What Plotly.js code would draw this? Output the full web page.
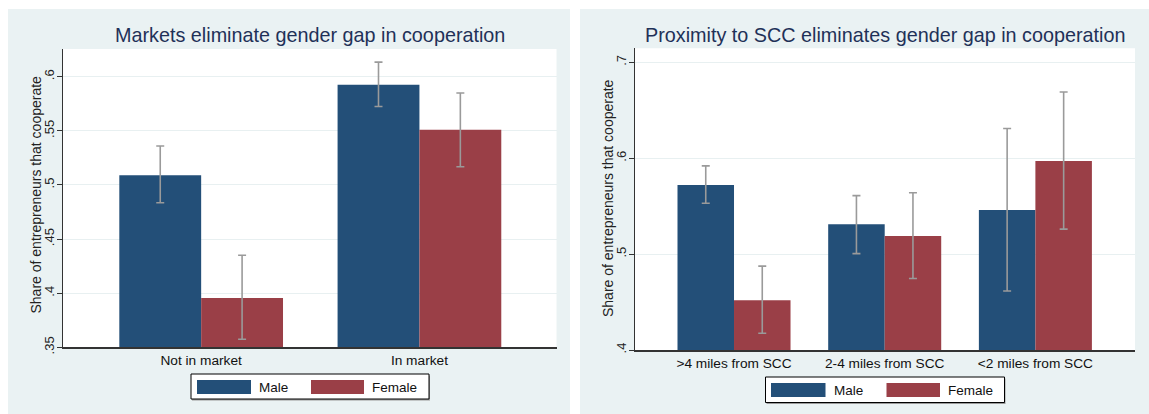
<!DOCTYPE html>
<html>
<head>
<meta charset="utf-8">
<script src="https://cdn.plot.ly/plotly-3.0.1.min.js"></script>
<style>
html,body{margin:0;padding:0;background:#fff;}
#chart{width:1149px;height:414px;}
</style>
</head>
<body>
<div id="chart"></div>
<script>
// ---- data: left panel ----
const marketCats = ["Not in market", "In market"];
const marketMale = [0.509, 0.5925];
const marketMaleHi = [0.536, 0.6135];
const marketMaleLo = [0.4835, 0.5725];
const marketFemale = [0.3955, 0.551];
const marketFemaleHi = [0.435, 0.585];
const marketFemaleLo = [0.3575, 0.5168];

// ---- data: right panel ----
const sccCats = [">4 miles from SCC", "2-4 miles from SCC", "<2 miles from SCC"];
const sccMale = [0.572, 0.531, 0.546];
const sccMaleHi = [0.592, 0.561, 0.631];
const sccMaleLo = [0.553, 0.5005, 0.4615];
const sccFemale = [0.452, 0.519, 0.597];
const sccFemaleHi = [0.4875, 0.564, 0.669];
const sccFemaleLo = [0.4175, 0.4745, 0.526];

const leftTicks = [0.35, 0.4, 0.45, 0.5, 0.55, 0.6];
const leftTickText = [".35", ".4", ".45", ".5", ".55", ".6"];
const rightTicks = [0.4, 0.5, 0.6, 0.7];
const rightTickText = [".4", ".5", ".6", ".7"];

const seriesNames = ["Male", "Female"];
const titleLeft = "Markets eliminate gender gap in cooperation";
const titleRight = "Proximity to SCC eliminates gender gap in cooperation";
const yTitle = "Share of entrepreneurs that cooperate";

// ---- styling ----
const MALE = "#234f78";
const FEMALE = "#9a3f47";
const PANEL = "#eaf2f3";
const W = 1149, H = 414;
const FONT = "Liberation Sans, Arial, Helvetica, sans-serif";
const px = x => x / W;
const py = y => 1 - y / H;

function diff(a, b) { return a.map((v, i) => v - b[i]); }

function barTrace(cats, vals, hi, lo, name, color, xa, ya) {
  return {
    type: "bar", x: cats, y: vals, name: name, xaxis: xa, yaxis: ya,
    marker: {color: color, line: {width: 0}},
    showlegend: false,
    error_y: {type: "data", symmetric: false, array: diff(hi, vals), arrayminus: diff(vals, lo),
              color: "#9a9a9a", thickness: 1.6, width: 4}
  };
}

const data = [
  barTrace(marketCats, marketMale, marketMaleHi, marketMaleLo, seriesNames[0], MALE, "x", "y"),
  barTrace(marketCats, marketFemale, marketFemaleHi, marketFemaleLo, seriesNames[1], FEMALE, "x", "y"),
  barTrace(sccCats, sccMale, sccMaleHi, sccMaleLo, seriesNames[0], MALE, "x2", "y2"),
  barTrace(sccCats, sccFemale, sccFemaleHi, sccFemaleLo, seriesNames[1], FEMALE, "x2", "y2")
];

function yax(range, tv, tt, domain, anchor) {
  return {
    domain: domain, anchor: anchor, range: range, tickvals: tv, ticktext: tt,
    tickangle: -90, ticks: "outside", ticklen: 5, tickwidth: 1, tickcolor: "#333",
    ticklabelstandoff: -3,
    showline: true, linecolor: "#333", linewidth: 1.4,
    showgrid: true, gridcolor: "#e8f0f1", gridwidth: 1, zeroline: false,
    tickfont: {family: FONT, size: 13, color: "#222"},
    automargin: false, fixedrange: true
  };
}
function xax(range, domain, anchor) {
  return {
    domain: domain, anchor: anchor, type: "category", range: range,
    ticks: "", showline: true, linecolor: "#333", linewidth: 1.6, showgrid: false, zeroline: false,
    tickfont: {family: FONT, size: 13.7, color: "#111"}, automargin: false, fixedrange: true
  };
}

const shapes = [];
function rect(x0, y0, x1, y1, fill, line) {
  shapes.push({type: "rect", xref: "paper", yref: "paper", layer: "below",
    x0: px(x0), x1: px(x1), y0: py(y1), y1: py(y0),
    fillcolor: fill, line: line || {width: 0}});
}
// panel backgrounds and white plot regions
rect(8, 9, 570, 414, PANEL);
rect(580, 9, 1149, 414, PANEL);
rect(63, 49, 556.5, 347.3, "#ffffff");
rect(635, 48.3, 1135, 350, "#ffffff");

const TITLE_FONT = {family: FONT, size: 19.8, color: "#1f3158"};
const annotations = [
  {text: titleLeft, x: px(310), y: py(35), xref: "paper", yref: "paper", showarrow: false,
   xanchor: "center", yanchor: "middle", font: TITLE_FONT},
  {text: titleRight, x: px(885), y: py(35), xref: "paper", yref: "paper", showarrow: false,
   xanchor: "center", yanchor: "middle", font: TITLE_FONT},
  {text: yTitle, x: px(35.5), y: py(195), xref: "paper", yref: "paper", showarrow: false,
   textangle: -90, xanchor: "center", yanchor: "middle", font: {family: FONT, size: 14, color: "#222"}},
  {text: yTitle, x: px(608), y: py(198), xref: "paper", yref: "paper", showarrow: false,
   textangle: -90, xanchor: "center", yanchor: "middle", font: {family: FONT, size: 14, color: "#222"}}
];

// legends (drawn boxes)
function legend(bx0, by0, bx1, by1, m0, m1, f0, f1, sy0, sy1, mt, ft) {
  shapes.push({type: "rect", xref: "paper", yref: "paper", layer: "above",
    x0: px(bx0 + 1), x1: px(bx1 + 1), y0: py(by1 + 1.5), y1: py(by0 + 1.5),
    fillcolor: "#9a9a9a", line: {width: 0}});
  shapes.push({type: "rect", xref: "paper", yref: "paper", layer: "above",
    x0: px(bx0), x1: px(bx1), y0: py(by1), y1: py(by0),
    fillcolor: "#ffffff", line: {color: "#000", width: 1}});
  shapes.push({type: "rect", xref: "paper", yref: "paper", layer: "above",
    x0: px(m0), x1: px(m1), y0: py(sy1), y1: py(sy0), fillcolor: MALE, line: {width: 0}});
  shapes.push({type: "rect", xref: "paper", yref: "paper", layer: "above",
    x0: px(f0), x1: px(f1), y0: py(sy1), y1: py(sy0), fillcolor: FEMALE, line: {width: 0}});
  const cy = (sy0 + sy1) / 2;
  annotations.push({text: seriesNames[0], x: px(mt), y: py(cy), xref: "paper", yref: "paper",
    showarrow: false, xanchor: "left", yanchor: "middle", font: {family: FONT, size: 13.5, color: "#111"}});
  annotations.push({text: seriesNames[1], x: px(ft), y: py(cy), xref: "paper", yref: "paper",
    showarrow: false, xanchor: "left", yanchor: "middle", font: {family: FONT, size: 13.5, color: "#111"}});
}
legend(191, 374, 429, 399, 197, 251, 311, 364, 380, 394, 257, 370);
legend(765.5, 377, 1004.5, 402.5, 771, 825.5, 886.5, 940, 383, 397, 832, 946);

const layout = {
  width: W, height: H,
  margin: {l: 0, r: 0, t: 0, b: 0, pad: 0},
  paper_bgcolor: "#ffffff", plot_bgcolor: "rgba(0,0,0,0)",
  barmode: "group", bargap: 0.25, bargroupgap: 0,
  showlegend: false,
  xaxis: xax([-0.633, 1.628], [px(63), px(556.5)], "y"),
  yaxis: yax([0.35, 0.6256], leftTicks, leftTickText, [py(347.3), py(49)], "x"),
  xaxis2: xax([-0.657, 2.661], [px(635), px(1135)], "y2"),
  yaxis2: yax([0.4, 0.7146], rightTicks, rightTickText, [py(350), py(48.3)], "x2"),
  shapes: shapes,
  annotations: annotations
};

Plotly.newPlot("chart", data, layout, {staticPlot: true, displayModeBar: false});
</script>
</body>
</html>
